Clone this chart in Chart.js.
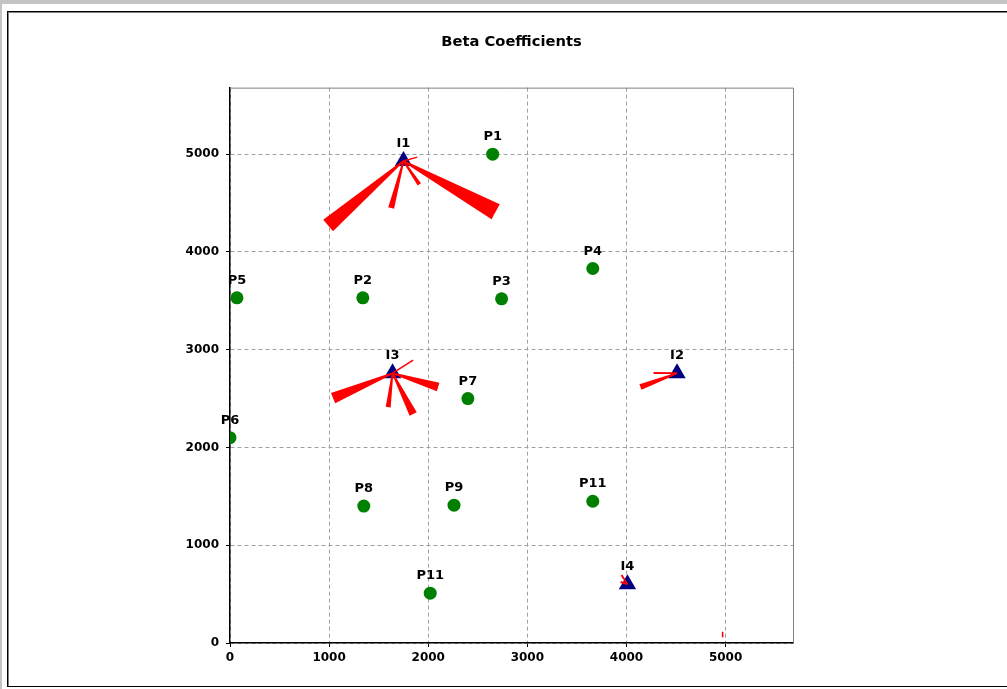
<!DOCTYPE html>
<html>
<head>
<meta charset="utf-8">
<script src="https://cdn.jsdelivr.net/npm/chart.js@4/dist/chart.umd.min.js"></script>
<style>
  html, body { margin: 0; padding: 0; background: #ffffff; width: 1007px; height: 689px; overflow: hidden; }
  #bandTop { position: absolute; left: 0; top: 0; width: 1007px; height: 4px; background: #c4c4c4; }
  #bandLeft { position: absolute; left: 0; top: 0; width: 2px; height: 689px; background: #c4c4c4; }
  #frame { position: absolute; left: 7px; top: 11px; width: 1010px; height: 674px;
           border-top: 1px solid #000; border-left: 1px solid #000; border-bottom: 1px solid #000;
           box-shadow: inset 1px 1px 0 #808080; }
  #c { position: absolute; left: 0; top: 0; }
</style>
</head>
<body>
<div id="bandTop"></div>
<div id="bandLeft"></div>
<div id="frame"></div>
<canvas id="c" width="1007" height="689"></canvas>
<script>
// ---- data ----
const chartTitle = 'Beta Coefficients';
const tickValues = [0, 1000, 2000, 3000, 4000, 5000];
const tickLabels = ['0', '1000', '2000', '3000', '4000', '5000'];
const axisMin = 0;
const axisMax = 5680;

const pointLabels = ['P1', 'P2', 'P3', 'P4', 'P5', 'P6', 'P7', 'P8', 'P9', 'P11', 'P11'];
const pointX = [2650, 1340, 2740, 3660, 70, 0, 2400, 1350, 2260, 3660, 2020];
const pointY = [5000, 3530, 3520, 3830, 3530, 2100, 2500, 1400, 1410, 1450, 510];

const itemLabels = ['I1', 'I2', 'I3', 'I4'];
const itemX = [1750, 4510, 1640, 4010];
const itemY = [4930, 2760, 2760, 600];

// beta-coefficient wedges: origin, tip, magnitude
const wedgeFromX = [1750, 1750, 1750, 1750, 1750, 1640, 1640, 1640, 1640, 1640, 4510, 4510, 4010, 4010, 4970];
const wedgeFromY = [4930, 4930, 4930, 4930, 4930, 2760, 2760, 2760, 2760, 2760, 2760, 2760, 600, 600, 60];
const wedgeToX   = [990, 2680, 1626, 1910, 1890, 1040, 2100, 1848, 1596, 1848, 4141, 4273, 3950, 3940, 4970];
const wedgeToY   = [4270, 4410, 4450, 4690, 4970, 2505, 2618, 2894, 2413, 2342, 2618, 2761, 695, 624, 115];
const wedgeBeta  = [15, 17, 6, 4, 1, 11, 9, 1.5, 5, 8, 6, 2, 2, 2, 1.5];

// ---- plugins ----
const frameTopRight = {
  id: 'frameTopRight',
  beforeDatasetsDraw(chart) {
    const { ctx, chartArea: a } = chart;
    ctx.save();
    ctx.strokeStyle = '#808080';
    ctx.lineWidth = 1;
    ctx.beginPath();
    ctx.moveTo(a.left, a.top + 0.5);
    ctx.lineTo(a.right + 0.5, a.top + 0.5);
    ctx.lineTo(a.right + 0.5, a.bottom);
    ctx.stroke();
    ctx.restore();
  }
};

const wedgePlugin = {
  id: 'wedges',
  afterDatasetsDraw(chart) {
    const { ctx } = chart;
    const xs = chart.scales.x, ys = chart.scales.y;
    ctx.save();
    ctx.fillStyle = '#ff0000';
    for (let i = 0; i < wedgeBeta.length; i++) {
      const x0 = xs.getPixelForValue(wedgeFromX[i]);
      const y0 = ys.getPixelForValue(wedgeFromY[i]);
      const x1 = xs.getPixelForValue(wedgeToX[i]);
      const y1 = ys.getPixelForValue(wedgeToY[i]);
      const dx = x1 - x0, dy = y1 - y0;
      const len = Math.hypot(dx, dy) || 1;
      const nx = -dy / len, ny = dx / len;
      const w0 = 0.8, w1 = Math.max(1.2, wedgeBeta[i]) / 2;
      ctx.beginPath();
      ctx.moveTo(x0 + nx * w0, y0 + ny * w0);
      ctx.lineTo(x1 + nx * w1, y1 + ny * w1);
      ctx.lineTo(x1 - nx * w1, y1 - ny * w1);
      ctx.lineTo(x0 - nx * w0, y0 - ny * w0);
      ctx.closePath();
      ctx.fill();
    }
    ctx.restore();
  }
};

const labelPlugin = {
  id: 'pointNames',
  afterDatasetsDraw(chart) {
    const { ctx } = chart;
    ctx.save();
    ctx.font = 'bold 13px "DejaVu Sans"';
    ctx.fillStyle = '#000000';
    ctx.textAlign = 'center';
    ctx.textBaseline = 'alphabetic';
    const sets = [pointLabels, itemLabels];
    sets.forEach((names, di) => {
      const meta = chart.getDatasetMeta(di);
      meta.data.forEach((el, i) => {
        ctx.fillText(names[i], el.x, el.y - 14);
      });
    });
    ctx.restore();
  }
};

const pData = pointX.map((x, i) => ({ x, y: pointY[i] }));
const iData = itemX.map((x, i) => ({ x, y: itemY[i] }));

const tickFont = { family: '"DejaVu Sans"', weight: 'bold', size: 12 };
const fmt = (v) => { const k = tickValues.indexOf(v); return k >= 0 ? tickLabels[k] : String(v); };

new Chart(document.getElementById('c'), {
  type: 'scatter',
  data: {
    datasets: [
      { label: 'P', data: pData, pointStyle: 'circle', pointRadius: 6.5, pointHoverRadius: 6.5,
        backgroundColor: '#008000', borderColor: '#008000', borderWidth: 0 },
      { label: 'I', data: iData, pointStyle: 'triangle', pointRadius: 10, pointHoverRadius: 10,
        backgroundColor: '#000080', borderColor: '#000080', borderWidth: 0 }
    ]
  },
  options: {
    responsive: false,
    animation: false,
    events: [],
    layout: { padding: { left: 0, right: 214, top: 0, bottom: 0 } },
    plugins: {
      legend: { display: false },
      tooltip: { enabled: false },
      title: {
        display: true, text: chartTitle, fullSize: false, color: '#000000',
        font: { family: '"DejaVu Sans"', weight: 'bold', size: 14.7 },
        padding: { top: 33, bottom: 37 }
      }
    },
    scales: {
      x: {
        type: 'linear', min: axisMin, max: axisMax,
        afterFit(s) { s.height = 46; },
        afterBuildTicks(s) { s.ticks = tickValues.map(v => ({ value: v })); },
        ticks: { stepSize: 1000, includeBounds: false, color: '#000000', font: tickFont, padding: 4,
                 maxRotation: 0, autoSkip: false, callback: fmt },
        grid: { color: '#a0a0a0', lineWidth: 1, tickLength: 4, tickColor: '#000000', tickBorderDash: [] },
        border: { display: true, color: '#000000', width: 1.5, dash: [4, 3] }
      },
      y: {
        type: 'linear', min: axisMin, max: axisMax,
        afterFit(s) { s.width = 230; },
        afterBuildTicks(s) { s.ticks = tickValues.map(v => ({ value: v })); },
        ticks: { stepSize: 1000, includeBounds: false, color: '#000000', font: tickFont, padding: 7,
                 autoSkip: false, callback: fmt },
        grid: { color: '#a0a0a0', lineWidth: 1, tickLength: 4, tickColor: '#000000', tickBorderDash: [] },
        border: { display: true, color: '#000000', width: 1.5, dash: [4, 3] }
      }
    }
  },
  plugins: [frameTopRight, wedgePlugin, labelPlugin]
});
</script>
</body>
</html>
